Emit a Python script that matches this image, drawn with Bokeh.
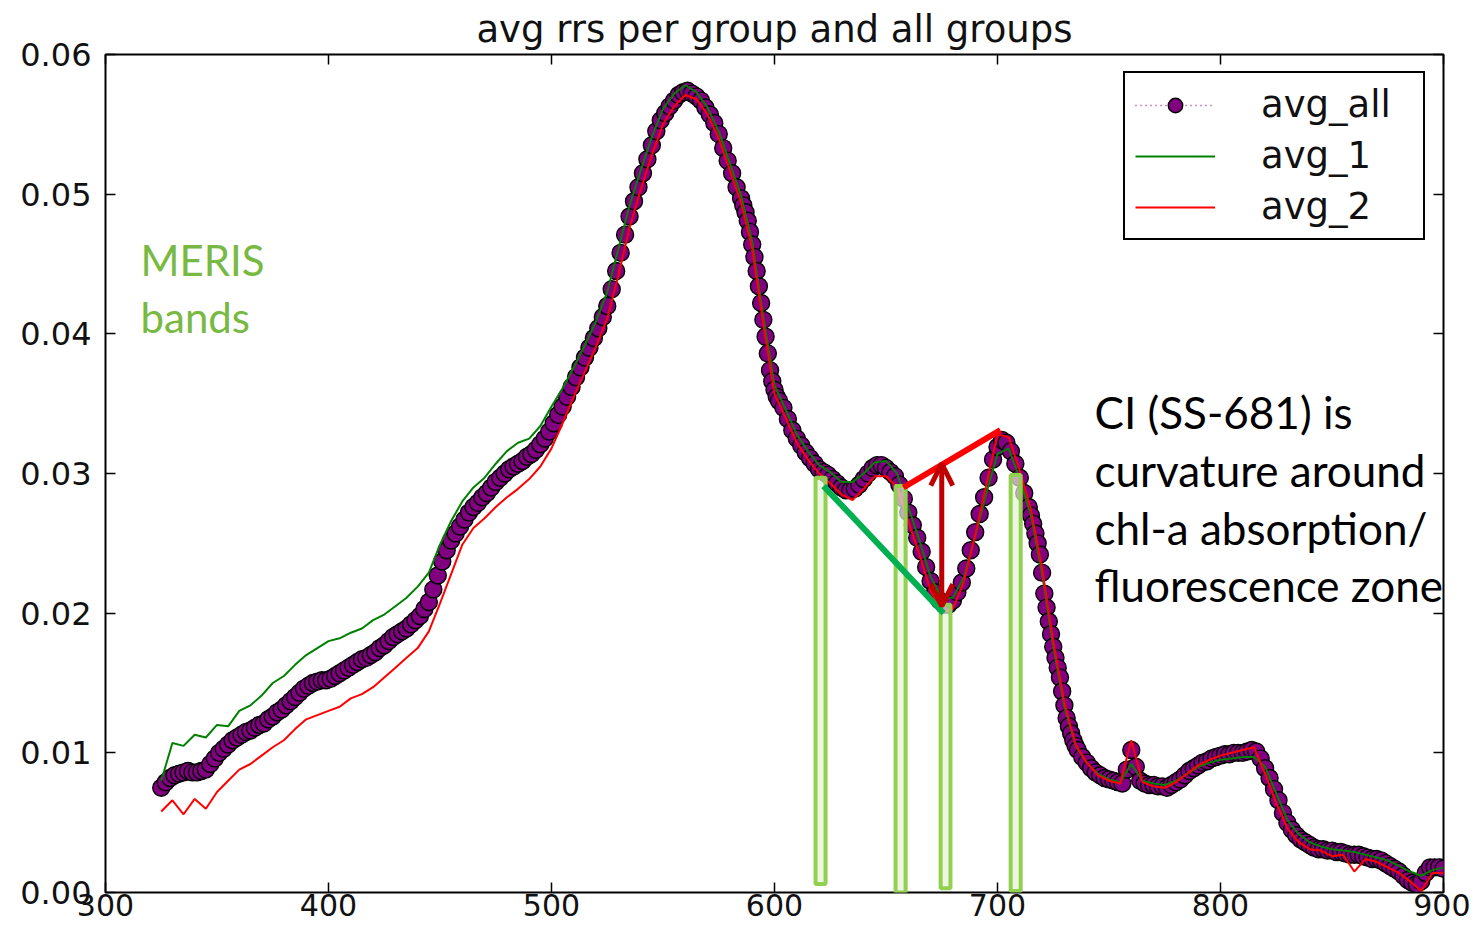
import numpy as np
from bokeh.plotting import figure
from bokeh.models import (Range1d, LinearAxis, Label, Arrow, OpenHead, FixedTicker,
                          PrintfTickFormatter, Legend, LegendItem)
from bokeh.embed import file_html
from bokeh.resources import INLINE

# ---------------- data ----------------
# wavelength grid of the "avg_all" series (nm)
wl_all = np.concatenate([np.arange(325, 586, 2), np.arange(586, 603, 1),
                         np.arange(604, 715, 2), np.arange(715, 737, 1),
                         np.arange(738, 901, 2)])

avg_all = [
    # 325 .. 585 step 2
    .0075, .0079, .0082, .0084, .0085, .0086, .0087, .0086, .0086, .0087,
    .0088, .0092, .0096, .0100, .0103, .0106, .0109, .0111, .0113, .0115,
    .0116, .0118, .0120, .0121, .0124, .0126, .0129, .0131, .0134, .0137,
    .0140, .0143, .0146, .0148, .0150, .0151, .0152, .0152, .0153, .0155,
    .0157, .0159, .0161, .0163, .0165, .0167, .0168, .0170, .0172, .0175,
    .0177, .0180, .0183, .0185, .0187, .0189, .0192, .0195, .0198, .0203,
    .0208, .0217, .0227, .0237, .0245, .0252, .0257, .0262, .0267, .0272,
    .0276, .0279, .0283, .0286, .0290, .0294, .0297, .0300, .0303, .0305,
    .0307, .0309, .0312, .0314, .0317, .0321, .0325, .0330, .0336, .0342,
    .0348, .0355, .0362, .0369, .0376, .0383, .0390, .0397, .0404, .0412,
    .0420, .0432, .0445, .0458, .0471, .0484, .0495, .0505, .0515, .0525,
    .0535, .0545, .0553, .0558, .0563, .0567, .0571, .0573, .0574, .0572,
    .0570, .0567, .0562, .0557, .0551, .0543, .0533, .0524, .0515, .0505,
    .0497,
    # 586 .. 602 step 1
    .0492, .0487, .0481, .0473, .0464, .0455, .0445, .0434, .0422, .0410,
    .0398, .0386, .0374, .0366, .0360, .0355, .0352,
    # 604 .. 714 step 2
    .0347, .0339, .0331, .0325, .0320, .0315, .0311, .0307, .0303, .0301,
    .0299, .0296, .0293, .0290, .0288, .0288, .0289, .0292, .0296, .0300,
    .0304, .0306, .0306, .0304, .0301, .0298, .0292, .0282, .0272, .0263,
    .0254, .0244, .0233, .0223, .0215, .0209, .0206, .0206, .0209, .0215,
    .0222, .0232, .0245, .0258, .0271, .0283, .0297, .0310, .0319, .0324,
    .0322, .0316, .0307, .0297, .0286, .0276,
    # 715 .. 736 step 1
    .0270, .0264, .0257, .0250, .0242, .0229, .0214, .0204, .0194, .0185,
    .0176, .0168, .0161, .0154, .0144, .0134, .0125, .0119, .0114, .0109,
    .0105, .0102,
    # 738 .. 900 step 2
    .0097, .0093, .0089, .0086, .0084, .0082, .0081, .0080, .0079, .0078,
    .0088, .0102, .0090, .0080, .0078, .0077, .0077, .0076, .0076, .0075,
    .0077, .0079, .0081, .0084, .0087, .0089, .0091, .0093, .0094, .0096,
    .0097, .0098, .0099, .0099, .0100, .0100, .0100, .0101, .0102, .0101,
    .0096, .0089, .0082, .0074, .0066, .0057, .0050, .0045, .0041, .0038,
    .0036, .0034, .0032, .0031, .0031, .0030, .0030, .0029, .0029, .0028,
    .0027, .0027, .0027, .0026, .0025, .0024, .0024, .0023, .0021, .0019,
    .0017, .0015, .0012, .0009, .0007, .0006, .0008, .0014, .0018, .0018,
    .0018, .0017,
]

# wavelength grid of the group series (nm)
wl_groups = np.arange(325, 901, 5)

avg_1 = [
    .0080, .0107, .0105, .0113, .0111, .0120, .0119, .0130, .0134, .0141,
    .0150, .0155, .0163, .0170, .0175, .0180, .0182, .0186, .0189, .0195,
    .0199, .0205, .0211, .0219, .0229, .0249, .0266, .0280, .0290, .0297,
    .0307, .0316, .0322, .0325, .0334, .0348, .0361, .0376, .0392, .0409,
    .0430, .0461, .0492, .0517, .0541, .0561, .0572, .0578, .0573, .0562,
    .0545, .0522, .0499, .0466, .0412, .0363, .0346, .0328, .0316, .0306,
    .0301, .0294, .0294, .0300, .0308, .0309, .0300, .0276, .0252, .0226,
    .0211, .0211, .0226, .0255, .0286, .0314, .0318, .0296, .0270, .0228,
    .0176, .0133, .0105, .0093, .0085, .0081, .0079, .0092, .0080, .0078,
    .0077, .0080, .0085, .0090, .0093, .0095, .0096, .0097, .0097, .0090,
    .0071, .0052, .0042, .0036, .0033, .0031, .0030, .0029, .0027, .0025,
    .0023, .0019, .0015, .0012, .0016, .0018,
]

avg_2 = [
    .0058, .0066, .0056, .0067, .0060, .0072, .0080, .0088, .0092, .0098,
    .0104, .0109, .0117, .0124, .0127, .0130, .0133, .0139, .0142, .0147,
    .0154, .0161, .0168, .0175, .0187, .0207, .0228, .0249, .0261, .0268,
    .0276, .0283, .0289, .0296, .0305, .0318, .0336, .0355, .0373, .0391,
    .0411, .0442, .0476, .0503, .0528, .0550, .0563, .0571, .0568, .0557,
    .0540, .0517, .0494, .0461, .0407, .0357, .0340, .0322, .0310, .0300,
    .0293, .0285, .0281, .0289, .0298, .0298, .0290, .0266, .0242, .0216,
    .0201, .0203, .0223, .0256, .0292, .0328, .0326, .0302, .0274, .0232,
    .0180, .0136, .0106, .0093, .0084, .0080, .0078, .0109, .0079, .0076,
    .0075, .0079, .0085, .0091, .0095, .0098, .0100, .0102, .0104, .0085,
    .0064, .0046, .0036, .0031, .0030, .0026, .0027, .0015, .0024, .0022,
    .0018, .0014, .0008, .0001, .0014, .0014,
]

assert len(wl_all) == len(avg_all)
assert len(wl_groups) == len(avg_1) == len(avg_2)

# MERIS bands drawn on the chart (nm, reflectance)
band_left = [618.4, 654.3, 674.5, 705.9]
band_right = [622.9, 658.8, 678.9, 710.4]
band_top = [0.0297, 0.0291, 0.0206, 0.0299]
band_bottom = [0.0006, 0.0000, 0.0003, 0.0001]

# CI construction lines (nm, reflectance)
base_x = [622.0, 675.8]
base_y = [0.0291, 0.0200]
peak_x = [657.8, 701.3]
peak_y = [0.0290, 0.0331]
ci_x = 675.0
ci_y = [0.0205, 0.0307]

x_ticks = [300, 400, 500, 600, 700, 800, 900]
y_ticks = [0.0, 0.01, 0.02, 0.03, 0.04, 0.05, 0.06]

title_text = "avg rrs per group and all groups"
ci_lines = ["CI (SS-681) is", "curvature around", "chl-a absorption/", "fluorescence zone"]
meris_lines = ["MERIS", "bands"]

# ---------------- figure ----------------
AX_FONT = "DejaVu Sans"
p = figure(frame_width=1338, frame_height=838,
           x_range=Range1d(300, 900), y_range=Range1d(0, 0.06),
           output_backend="svg", toolbar_location=None,
           min_border_left=105, min_border_right=27, min_border_top=54, min_border_bottom=30,
           background_fill_color="white", border_fill_color="white")
p.grid.visible = False
p.outline_line_color = "black"
p.outline_line_width = 2

p.title.text = title_text
p.title.align = "center"
p.title.text_font = AX_FONT
p.title.text_font_style = "normal"
p.title.text_font_size = "37px"
p.title.text_color = "#111111"
p.title.standoff = 8

def style_axis(ax, labels=True):
    ax.axis_line_color = None
    ax.major_tick_in = 10
    ax.major_tick_out = 0
    ax.major_tick_line_color = "black"
    ax.major_tick_line_width = 1.5
    ax.minor_tick_line_color = None
    if labels:
        ax.major_label_text_font = AX_FONT
        ax.major_label_text_font_size = "31px"
        ax.major_label_text_color = "#111111"
    else:
        ax.major_label_text_font_size = "1px"
        ax.major_label_text_color = None
        ax.major_label_standoff = 0

p.xaxis.ticker = FixedTicker(ticks=x_ticks)
p.yaxis.ticker = FixedTicker(ticks=y_ticks)
p.yaxis.formatter = PrintfTickFormatter(format="%.2f")
style_axis(p.xaxis[0])
style_axis(p.yaxis[0])
p.xaxis.major_label_text_font_size = "30px"
p.xaxis.major_label_standoff = 1
p.yaxis.major_label_text_font_size = "32px"
p.yaxis.major_label_standoff = 14

top_ax = LinearAxis(ticker=FixedTicker(ticks=x_ticks))
right_ax = LinearAxis(ticker=FixedTicker(ticks=y_ticks))
style_axis(top_ax, labels=False)
style_axis(right_ax, labels=False)
p.add_layout(top_ax, "above")
p.add_layout(right_ax, "right")

# ---------------- series ----------------
r_dot = p.line(wl_all, avg_all, line_color="#a020a0", line_dash="1 4", line_width=1.5)
r_pts = p.scatter(wl_all, avg_all, marker="circle", size=17,
                  fill_color="#800080", line_color="black", line_width=1.4)
r_g = p.line(wl_groups, avg_1, line_color="#008000", line_width=2)
r_r = p.line(wl_groups, avg_2, line_color="#ff0000", line_width=2)

# MERIS bands
p.quad(left=band_left, right=band_right, top=band_top, bottom=band_bottom,
       fill_color="#e4f2d6", fill_alpha=0.7, line_color="#92d050", line_width=4)

# CI construction
p.line(base_x, base_y, line_color="#00b050", line_width=6)
p.line(peak_x, peak_y, line_color="#ff0000", line_width=6)
p.add_layout(Arrow(start=OpenHead(size=22, line_color="#c00000", line_width=5),
                   end=OpenHead(size=22, line_color="#c00000", line_width=5),
                   x_start=ci_x, y_start=ci_y[0], x_end=ci_x, y_end=ci_y[1],
                   line_color="#c00000", line_width=5))

# legend
legend = Legend(items=[LegendItem(label="avg_all", renderers=[r_dot, r_pts]),
                       LegendItem(label="avg_1", renderers=[r_g]),
                       LegendItem(label="avg_2", renderers=[r_r])],
                location=(1018, 652))
legend.label_text_font = AX_FONT
legend.label_text_font_size = "37px"
legend.label_text_color = "#111111"
legend.border_line_color = "black"
legend.border_line_alpha = 1.0
legend.border_line_width = 2
legend.background_fill_color = "white"
legend.background_fill_alpha = 1
legend.glyph_width = 80
legend.glyph_height = 36
legend.label_height = 36
legend.label_width = 152
legend.label_standoff = 46
legend.spacing = 8
legend.padding = 10
legend.margin = 0
p.add_layout(legend, "center")

# text annotations
TXT_FONT = "Lato"
meris_y = [0.04532, 0.04117]
ci_y_pos = [0.03437, 0.03025, 0.02613, 0.02202]
for t, yy in zip(meris_lines, meris_y):
    p.add_layout(Label(x=315.7, y=yy, text=t, text_font=TXT_FONT,
                       text_font_size="42px", text_color="#78b943",
                       text_baseline="alphabetic", text_align="left"))
for t, yy in zip(ci_lines, ci_y_pos):
    p.add_layout(Label(x=743.5, y=yy, text=t,
                       text_font=TXT_FONT, text_font_size="44px", text_color="black",
                       text_baseline="alphabetic", text_align="left"))

open("out.html", "w").write(file_html(p, INLINE))
